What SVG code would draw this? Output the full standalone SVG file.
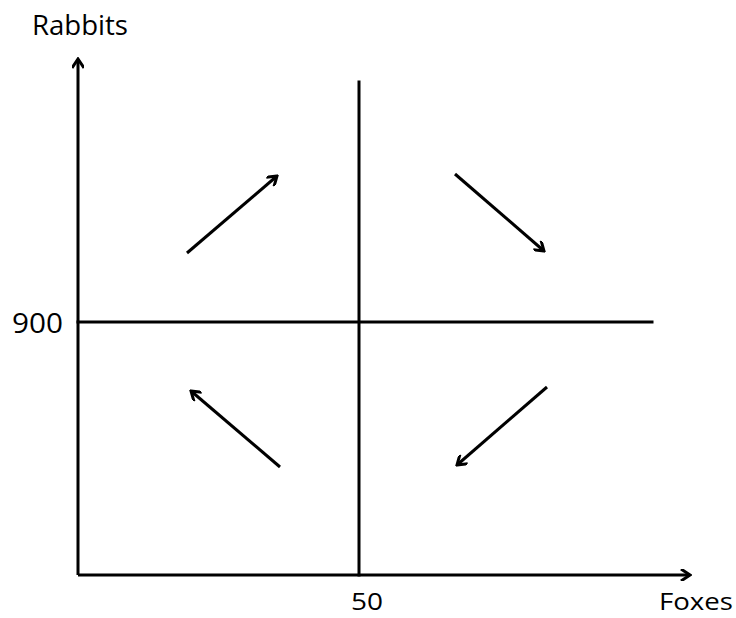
<svg xmlns="http://www.w3.org/2000/svg" width="736" height="618" viewBox="0 0 736 618">
<style>
.ln{stroke:#000;stroke-width:3;fill:none;stroke-linecap:square}
.ar{stroke:#000;stroke-width:3;fill:none;marker-end:url(#h)}
.t{font-family:"Open Sans","Liberation Sans",sans-serif;font-size:27px;fill:#000}
.b{font-size:24px}
</style>
<defs>
<marker id="h" markerWidth="12" markerHeight="12" viewBox="-10 -6 12 12" refX="0" refY="0" orient="auto" markerUnits="userSpaceOnUse">
<path d="M-9,-6 L0,0 L-9,6" stroke="#000" stroke-width="3" fill="none"/>
</marker>
</defs>
<rect width="736" height="618" fill="#fff"/>
<g id="axes">
<line class="ar" x1="78" y1="575" x2="78" y2="59"/>
<line class="ar" x1="78" y1="575" x2="690" y2="575"/>
<line class="ln" x1="78" y1="322" x2="652" y2="322"/>
<line class="ln" x1="359" y1="82" x2="359" y2="575"/>
</g>
<g id="connectors">
<line class="ar" x1="187" y1="253" x2="277" y2="176"/>
<line class="ar" x1="455" y1="174" x2="544" y2="251"/>
<line class="ar" x1="280" y1="467" x2="191" y2="391"/>
<line class="ar" x1="547" y1="387" x2="457" y2="465"/>
</g>
<g id="labels">
<text class="t" x="32" y="35" textLength="96" lengthAdjust="spacingAndGlyphs">Rabbits</text>
<text class="t" x="12" y="333" textLength="51" lengthAdjust="spacingAndGlyphs">900</text>
<text class="t b" x="351" y="610" textLength="32" lengthAdjust="spacingAndGlyphs">50</text>
<text class="t b" x="659" y="610" textLength="74" lengthAdjust="spacingAndGlyphs">Foxes</text>
</g>
</svg>
